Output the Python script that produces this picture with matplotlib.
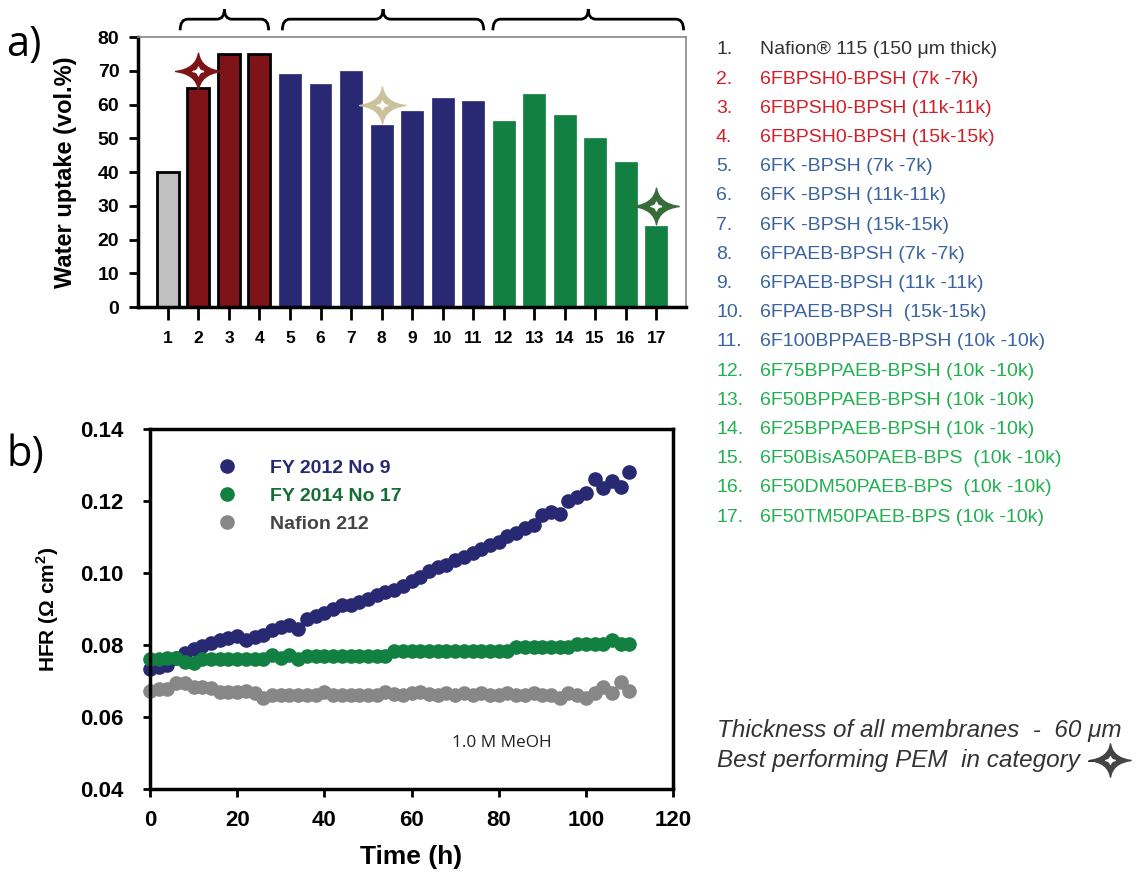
import numpy as np
import matplotlib
matplotlib.use("Agg")
import matplotlib.pyplot as plt
import matplotlib.lines as mlines
from matplotlib.path import Path
from matplotlib.patches import PathPatch

plt.rcParams['font.family'] = ['Liberation Sans', 'DejaVu Sans']

# ---- panel a data ----
bar_ids = list(range(1, 18))
water_uptake = [40, 65, 75, 75, 69, 66, 70, 54, 58, 62, 61, 55, 63, 57, 50, 43, 24]
bar_colors = ['#c0c0c0'] + ['#7f1418'] * 3 + ['#282873'] * 7 + ['#118040'] * 6
edge_black = [True] * 4 + [False] * 13
# brace extents over the three groups (in bar units)
brace_spans = [(1.4, 4.3), (4.75, 11.35), (11.65, 17.9)]
best_ids = [2, 8, 17]
best_vals = [70, 60, 30]
best_colors = ['#7f1418', '#cbc29b', '#376b3a']

names = [
    "Nafion® 115 (150 μm thick)",
    "6FBPSH0-BPSH (7k -7k)",
    "6FBPSH0-BPSH (11k-11k)",
    "6FBPSH0-BPSH (15k-15k)",
    "6FK -BPSH (7k -7k)",
    "6FK -BPSH (11k-11k)",
    "6FK -BPSH (15k-15k)",
    "6FPAEB-BPSH (7k -7k)",
    "6FPAEB-BPSH (11k -11k)",
    "6FPAEB-BPSH  (15k-15k)",
    "6F100BPPAEB-BPSH (10k -10k)",
    "6F75BPPAEB-BPSH (10k -10k)",
    "6F50BPPAEB-BPSH (10k -10k)",
    "6F25BPPAEB-BPSH (10k -10k)",
    "6F50BisA50PAEB-BPS  (10k -10k)",
    "6F50DM50PAEB-BPS  (10k -10k)",
    "6F50TM50PAEB-BPS (10k -10k)",
]
name_colors = ['#333333'] + ['#d0202a'] * 3 + ['#3a64a0'] * 7 + ['#22b050'] * 6

# ---- panel b data ----
time_h = list(range(0, 111, 2))
hfr_2012 = [0.0733, 0.0740, 0.0745, 0.0765, 0.0778, 0.0790, 0.0798, 0.0806, 0.0815, 0.0820,
            0.0826, 0.0813, 0.0822, 0.0828, 0.0842, 0.0850, 0.0855, 0.0845, 0.0872, 0.0880,
            0.0889, 0.0900, 0.0910, 0.0912, 0.0920, 0.0928, 0.0940, 0.0948, 0.0954, 0.0965,
            0.0978, 0.0990, 0.1005, 0.1018, 0.1023, 0.1035, 0.1045, 0.1055, 0.1068, 0.1078,
            0.1087, 0.1102, 0.1112, 0.1124, 0.1132, 0.1160, 0.1170, 0.1165, 0.1200, 0.1212,
            0.1222, 0.1262, 0.1235, 0.1255, 0.1240, 0.1280]
hfr_2014 = [0.0762, 0.0762, 0.0763, 0.0763, 0.0752, 0.0750, 0.0762, 0.0762, 0.0762, 0.0762,
            0.0762, 0.0762, 0.0762, 0.0762, 0.0772, 0.0763, 0.0773, 0.0760, 0.0770, 0.0770,
            0.0770, 0.0770, 0.0770, 0.0770, 0.0770, 0.0770, 0.0770, 0.0770, 0.0783, 0.0783,
            0.0783, 0.0783, 0.0783, 0.0783, 0.0783, 0.0783, 0.0783, 0.0783, 0.0783, 0.0783,
            0.0783, 0.0783, 0.0795, 0.0795, 0.0795, 0.0795, 0.0795, 0.0795, 0.0795, 0.0804,
            0.0804, 0.0804, 0.0804, 0.0815, 0.0803, 0.0803]
hfr_nafion = [0.0673, 0.0678, 0.0678, 0.0695, 0.0694, 0.0683, 0.0683, 0.0680, 0.0670, 0.0670,
              0.0669, 0.0671, 0.0668, 0.0652, 0.0661, 0.0661, 0.0661, 0.0661, 0.0661, 0.0661,
              0.0670, 0.0662, 0.0661, 0.0661, 0.0661, 0.0661, 0.0662, 0.0670, 0.0663, 0.0661,
              0.0668, 0.0670, 0.0663, 0.0661, 0.0668, 0.0661, 0.0668, 0.0662, 0.0668, 0.0661,
              0.0661, 0.0668, 0.0662, 0.0661, 0.0668, 0.0661, 0.0662, 0.0652, 0.0668, 0.0661,
              0.0653, 0.0668, 0.0683, 0.0668, 0.0696, 0.0673]
series_labels = ['FY 2012 No 9', 'FY 2014 No 17', 'Nafion 212']
series_colors = ['#282873', '#118040', '#878787']
label_colors = ['#282873', '#156c35', '#444444']


def star_marker(ry=0.8, c=0.11):
    verts = [(1, 0), (c, c), (0, ry), (-c, c), (-1, 0), (-c, -c), (0, -ry), (c, -c), (1, 0)]
    codes = [Path.MOVETO] + [Path.CURVE3] * 8
    return Path(verts, codes)


STAR = star_marker()

fig = plt.figure(figsize=(11.39, 8.76), dpi=100)

# ---------------- panel a ----------------
ax1 = fig.add_axes([0.1212, 0.6495, 0.4811, 0.3082])
for i, v, col, blk in zip(bar_ids, water_uptake, bar_colors, edge_black):
    ax1.bar(i, v, width=0.72, color=col,
            edgecolor='black' if blk else col, linewidth=2 if blk else 0.5, zorder=2)
for i, v, col in zip(best_ids, best_vals, best_colors):
    ax1.plot(i, v, marker=STAR, markersize=33, color=col, linestyle='none', zorder=4)
    ax1.plot(i, v, marker=STAR, markersize=8, color='white', linestyle='none', zorder=5)

ax1.set_xlim(0.02, 17.98)
ax1.set_ylim(0, 80)
ax1.set_yticks(range(0, 81, 10))
ax1.set_xticks(bar_ids)
ax1.set_xticklabels([str(i) for i in bar_ids], fontweight='bold', fontsize=12.5)
for lab in ax1.get_yticklabels():
    lab.set_fontweight('bold')
    lab.set_fontsize(14)
ax1.tick_params(axis='y', direction='out', length=6.5, width=2, pad=7)
ax1.tick_params(axis='x', direction='out', length=9, width=2, pad=8)
for s in ['left', 'bottom']:
    ax1.spines[s].set_linewidth(2.5)
for s in ['top', 'right']:
    ax1.spines[s].set_linewidth(1.2)
    ax1.spines[s].set_color('#888888')
ax1.set_ylabel('Water uptake (vol.%)', fontsize=17, fontweight='bold', labelpad=15)

# braces over the groups
for x0, x1 in brace_spans:
    mid = (x0 + x1) / 2
    r = 0.25
    yb, yl, yt = 82.0, 85.3, 88.3
    verts = [(x0, yb), (x0, yl), (x0 + r, yl), (mid - r, yl), (mid, yl), (mid, yt),
             (mid, yl), (mid + r, yl), (x1 - r, yl), (x1, yl), (x1, yb)]
    codes = [Path.MOVETO, Path.CURVE3, Path.CURVE3, Path.LINETO, Path.CURVE3, Path.CURVE3,
             Path.CURVE3, Path.CURVE3, Path.LINETO, Path.CURVE3, Path.CURVE3]
    ax1.add_patch(PathPatch(Path(verts, codes), facecolor='none', edgecolor='black',
                            linewidth=2, clip_on=False))

# ---------------- panel b ----------------
ax2 = fig.add_axes([0.1317, 0.0993, 0.4592, 0.411])
for y, lab, col in zip([hfr_2012, hfr_2014, hfr_nafion], series_labels, series_colors):
    ax2.plot(time_h, y, 'o', color=col, markersize=9.5, label=lab, clip_on=False)
ax2.set_xlim(0, 120)
ax2.set_ylim(0.04, 0.14)
ax2.set_xticks(range(0, 121, 20))
ax2.set_yticks([0.04, 0.06, 0.08, 0.10, 0.12, 0.14])
ax2.set_yticklabels(['0.04', '0.06', '0.08', '0.10', '0.12', '0.14'])
for lab in ax2.get_xticklabels() + ax2.get_yticklabels():
    lab.set_fontweight('bold')
    lab.set_fontsize(16)
ax2.tick_params(axis='y', direction='out', length=5, width=2, pad=14)
ax2.tick_params(axis='x', direction='out', length=6, width=2, pad=9)
for s in ax2.spines.values():
    s.set_linewidth(2.5)
ax2.set_xlabel('Time (h)', fontsize=19, fontweight='bold', labelpad=10)
ax2.set_ylabel('HFR (Ω cm$^{\\mathregular{2}}$)', fontsize=15, fontweight='bold', labelpad=14)
leg = ax2.legend(loc='upper left', bbox_to_anchor=(0.095, 0.965), frameon=False,
                 handletextpad=1.7, labelspacing=0.55, handlelength=1.0,
                 prop={'weight': 'bold', 'size': 14})
for txt, col in zip(leg.get_texts(), label_colors):
    txt.set_color(col)
ax2.text(0.578, 0.128, '1.0 M MeOH', transform=ax2.transAxes, fontsize=12.4,
         family='Open Sans', color='#222222', va='center')

# panel letters
fig.text(6 / 1139, 1 - 45 / 876, 'a)', fontsize=30, family='Open Sans', va='center')
fig.text(6 / 1139, 1 - 455 / 876, 'b)', fontsize=30, family='Open Sans', va='center')

# numbered list on the right
for k, (nm, col) in enumerate(zip(names, name_colors)):
    yy = 1 - (50 + k * 29.2) / 876
    fig.text(716 / 1139, yy, f'{k + 1}.', color=col, fontsize=14, va='center')
    fig.text(760 / 1139, yy, nm, color=col, fontsize=14, va='center')

# notes bottom right
fig.text(717 / 1139, 1 - 731 / 876, 'Thickness of all membranes  -  60 μm',
         fontsize=17.5, style='italic', color='#333333', va='center')
fig.text(717 / 1139, 1 - 760 / 876, 'Best performing PEM  in category -',
         fontsize=17.5, style='italic', color='#333333', va='center')
fig.add_artist(mlines.Line2D([1110 / 1139], [1 - 760 / 876], marker=STAR, markersize=30,
                             color='#444444', linestyle='none', transform=fig.transFigure))
fig.add_artist(mlines.Line2D([1110 / 1139], [1 - 760 / 876], marker=STAR, markersize=7,
                             color='white', linestyle='none', transform=fig.transFigure))

fig.savefig('out.png', dpi=100)
